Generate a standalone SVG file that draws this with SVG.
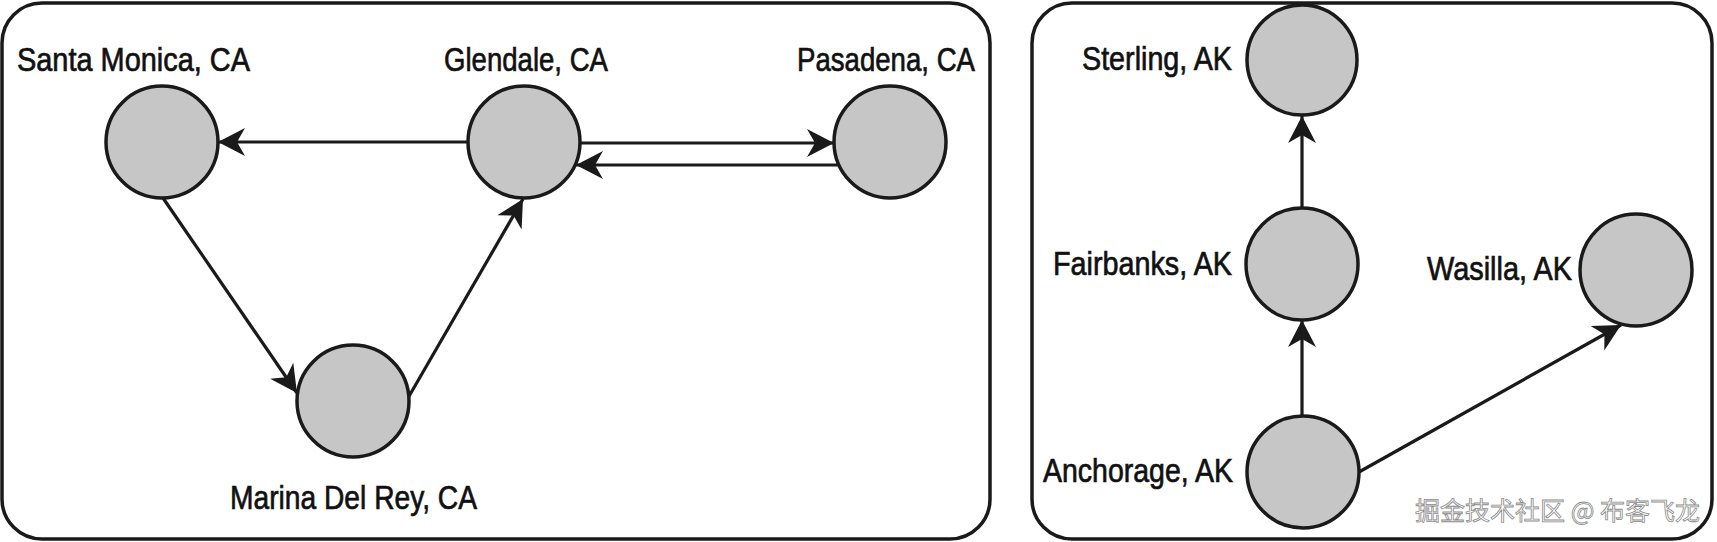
<svg xmlns="http://www.w3.org/2000/svg" width="1717" height="542" viewBox="0 0 1717 542">
<style>
.panel{fill:#fff;stroke:#1a1a1a;stroke-width:3.5}
.node{fill:#c6c6c6;stroke:#1a1a1a;stroke-width:3.5}
.lbl{font-family:"Liberation Sans Narrow","Liberation Sans",Arial,sans-serif;font-size:34px;fill:#111;stroke:#111;stroke-width:0.7}
.edge{stroke:#1a1a1a;stroke-width:3.2;fill:none;marker-end:url(#arr)}
.wm{font-family:"Noto Sans CJK SC","Liberation Sans",sans-serif;font-size:25px;fill:#fff;stroke:#8a8a8a;stroke-width:0.8}
</style>
<defs>
<marker id="arr" viewBox="-28 -15 29 30" refX="0" refY="0" markerWidth="29" markerHeight="30" markerUnits="userSpaceOnUse" orient="auto">
<path d="M0,0 L-27,-14 L-19,0 L-27,14 Z" fill="#1a1a1a"/>
</marker>
</defs>
<rect class="panel" x="2" y="3" width="988" height="536" rx="40" ry="40"/>
<rect class="panel" x="1032" y="3" width="680" height="536" rx="40" ry="40"/>
<g id="connectors">
<line class="edge" x1="468" y1="142" x2="218" y2="142"/>
<line class="edge" x1="580" y1="143" x2="834" y2="143"/>
<line class="edge" x1="839" y1="165" x2="576" y2="165"/>
<line class="edge" x1="163" y1="198" x2="297" y2="393"/>
<line class="edge" x1="408" y1="398" x2="523" y2="199"/>
<line class="edge" x1="1302" y1="208" x2="1302" y2="116"/>
<line class="edge" x1="1302" y1="416" x2="1302" y2="320"/>
<line class="edge" x1="1359" y1="472" x2="1621" y2="325"/>
</g>
<g id="santa-monica"><circle class="node" cx="162" cy="142" r="56"/><text class="lbl" x="17" y="71" textLength="233" lengthAdjust="spacingAndGlyphs">Santa Monica, CA</text></g>
<g id="glendale"><circle class="node" cx="524" cy="142" r="56"/><text class="lbl" x="444" y="71" textLength="164" lengthAdjust="spacingAndGlyphs">Glendale, CA</text></g>
<g id="pasadena"><circle class="node" cx="890" cy="142" r="56"/><text class="lbl" x="797" y="71" textLength="178" lengthAdjust="spacingAndGlyphs">Pasadena, CA</text></g>
<g id="marina-del-rey"><circle class="node" cx="353" cy="401" r="56"/><text class="lbl" x="230" y="509" textLength="247" lengthAdjust="spacingAndGlyphs">Marina Del Rey, CA</text></g>
<g id="sterling"><circle class="node" cx="1302" cy="60" r="55"/><text class="lbl" x="1082" y="70" textLength="150" lengthAdjust="spacingAndGlyphs">Sterling, AK</text></g>
<g id="fairbanks"><circle class="node" cx="1302" cy="264" r="56"/><text class="lbl" x="1053" y="275" textLength="179" lengthAdjust="spacingAndGlyphs">Fairbanks, AK</text></g>
<g id="wasilla"><circle class="node" cx="1636" cy="270" r="56"/><text class="lbl" x="1427" y="280" textLength="145" lengthAdjust="spacingAndGlyphs">Wasilla, AK</text></g>
<g id="anchorage"><circle class="node" cx="1303" cy="472" r="56"/><text class="lbl" x="1043" y="482" textLength="190" lengthAdjust="spacingAndGlyphs">Anchorage, AK</text></g>
<text class="wm" x="1415" y="520" textLength="285" lengthAdjust="spacingAndGlyphs">掘金技术社区 @ 布客飞龙</text>
</svg>
